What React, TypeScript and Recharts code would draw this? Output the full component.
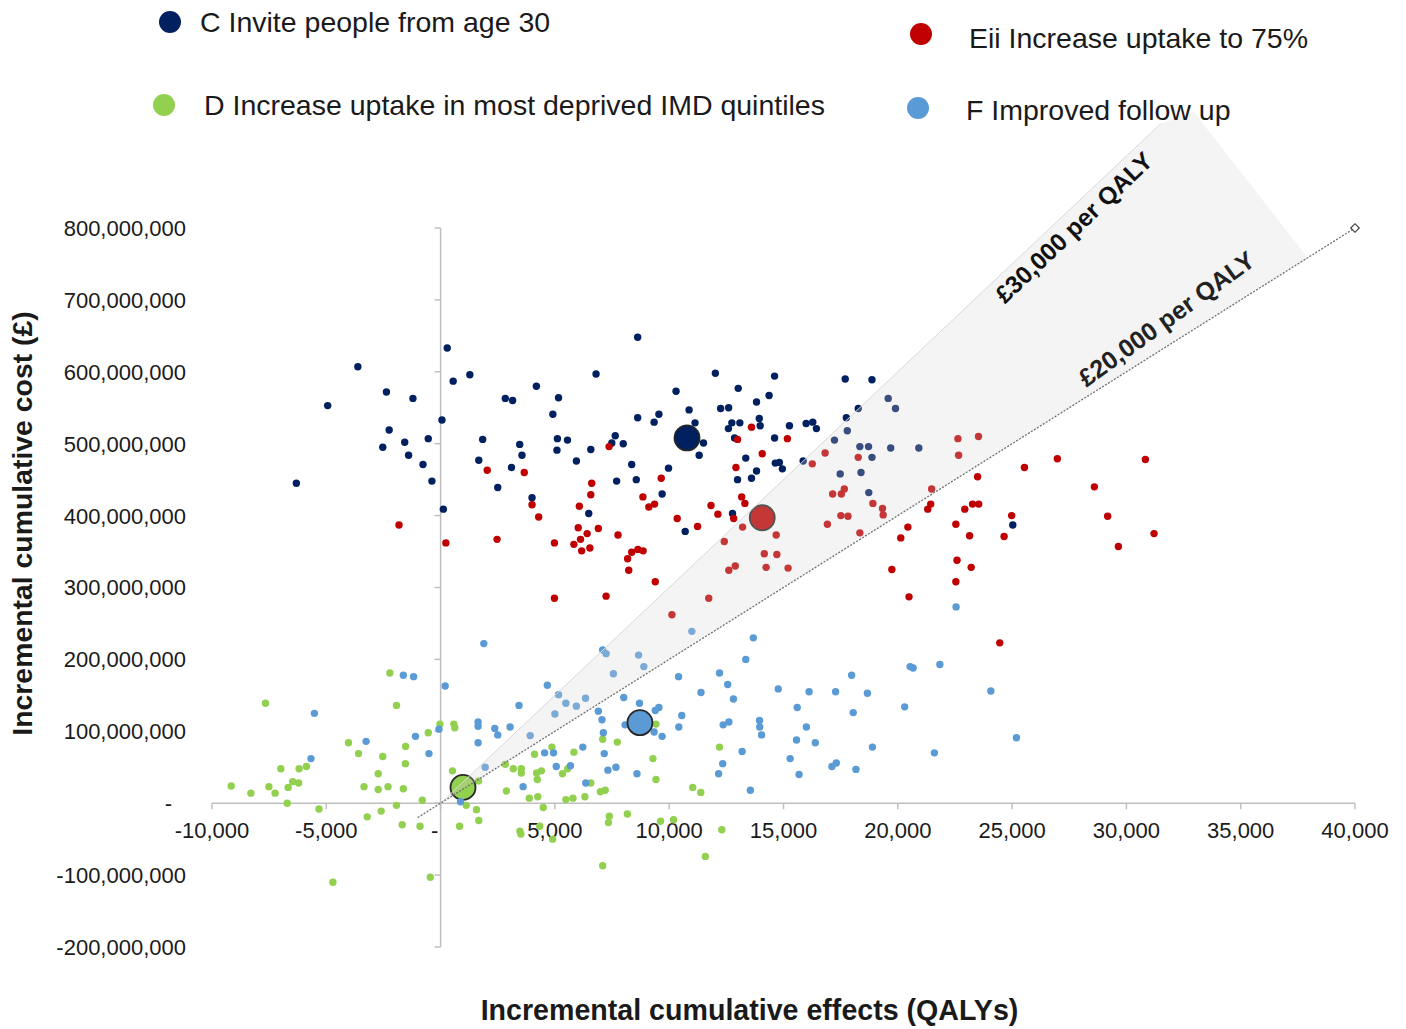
import React from "react";
import {
  ScatterChart,
  Scatter,
  XAxis,
  YAxis,
  ReferenceLine,
  ReferenceDot,
  ReferenceArea,
} from "recharts";

const FONT = "'Liberation Sans', Arial, Helvetica, sans-serif";

const NAVY = "#002060";
const RED = "#c00000";
const GREEN = "#92d050";
const BLUE = "#5b9bd5";

// [incremental QALYs, incremental cost in £ millions]
const inviteFrom30: [number, number][] = [
  [290, 633], [-3620, 607], [1280, 596], [550, 587], [4190, 580], [-2370, 572], [-1210, 563], [2830, 563], [3150, 560], [5160, 564],
  [-4940, 553], [4910, 541], [60, 533], [-2250, 519], [-540, 507], [1840, 506], [5110, 507], [-1570, 502], [3460, 499], [-2530, 495],
  [5090, 491], [-1400, 484], [3560, 484], [1670, 477], [-770, 471], [3100, 467], [-380, 448], [2500, 439], [4000, 425], [-6310, 445],
  [120, 409], [8620, 648], [6800, 597], [12020, 598], [14610, 594], [17700, 590], [18870, 589], [10300, 573], [13020, 577], [14370, 567],
  [13820, 558], [10870, 547], [12250, 549], [12600, 550], [18270, 549], [8620, 536], [9550, 541], [9340, 530], [11130, 529], [12740, 529],
  [13090, 529], [13940, 535], [13980, 525], [12590, 521], [15260, 525], [15990, 528], [16280, 530], [16440, 521], [17750, 536], [17790, 518],
  [5550, 505], [7640, 511], [7490, 501], [7990, 500], [11500, 501], [12860, 508], [14610, 508], [17230, 505], [6570, 492], [11310, 484],
  [18340, 496], [18720, 496], [18870, 481], [5940, 476], [8360, 471], [9970, 466], [13350, 480], [14640, 473], [14820, 474], [14950, 465],
  [13820, 462], [15860, 476], [17480, 458], [18390, 460], [7700, 448], [8560, 450], [12990, 450], [13600, 452], [9690, 430], [18730, 432],
  [6480, 403], [12770, 403], [19580, 563], [19900, 549], [19690, 494], [20920, 494], [25030, 387], [10700, 378],
];

const deprivedUptake: [number, number][] = [
  [-2220, 181], [-7660, 139], [-1930, 136], [-4030, 84], [-3590, 69], [-2530, 65], [-1530, 79], [-540, 98], [-30, 110], [580, 110],
  [620, 105], [-6990, 48], [-6190, 48], [-5870, 51], [-1540, 55], [-2730, 41], [-6470, 30], [-6210, 28], [-6670, 22], [-7510, 23],
  [-7240, 14], [-8300, 14], [-6710, 0], [-3350, 23], [-2730, 19], [-2300, 23], [-1630, 20], [-800, 4], [-1930, -3], [-5320, -8],
  [-3210, -19], [-2600, -11], [-1680, -30], [-900, -32], [830, -32], [520, 45], [2830, 54], [3180, 48], [3530, 48], [3530, 42],
  [4110, 68], [4870, 78], [4200, 42], [4230, 33], [4410, 45], [2880, 17], [3880, 7], [4250, 9], [4490, -6], [1570, -9],
  [1670, -24], [1120, -3], [3470, -39], [3510, -43], [4340, -32], [4900, -50], [-4710, -110], [-450, -103], [1660, 31], [-9160, 24],
  [9420, 110], [7090, 89], [7730, 85], [5830, 71], [9290, 62], [9420, 33], [12200, 78], [5330, 41], [5560, 48], [6570, 28],
  [5790, 7], [5480, 5], [6310, 9], [6990, 16], [7200, 18], [11030, 22], [11380, 15], [7380, -18], [7340, -27], [8170, -15],
  [9620, -25], [10190, -23], [12300, -37], [11580, -74], [7090, -87],
];

const uptake75: [number, number][] = [
  [2040, 463], [3660, 460], [4000, 415], [4290, 398], [7370, 496], [13600, 523], [12990, 506], [15170, 507], [14070, 486], [16820, 487],
  [16260, 472], [18270, 481], [12920, 467], [6610, 445], [6570, 429], [9650, 452], [6070, 413], [8850, 426], [9110, 412], [9360, 416],
  [13170, 426], [13310, 417], [11830, 414], [12130, 402], [17150, 430], [17530, 430], [17660, 437], [18910, 417], [17510, 400], [17820, 399],
  [10350, 396], [12820, 396], [22630, 507], [23530, 510], [22660, 484], [21480, 437], [23490, 454], [25540, 467], [26980, 479], [30830, 478],
  [28600, 440], [21440, 416], [21310, 409], [22930, 409], [23270, 416], [23540, 416], [24980, 400], [29180, 399], [19330, 410], [19360, 401],
  [20440, 384], [22540, 388], [20130, 369], [23140, 372], [24650, 371], [29650, 357], [31210, 375], [22590, 338], [23210, 328], [19740, 325],
  [22540, 308], [20490, 287], [24460, 223], [-1820, 387], [230, 362], [2470, 367], [4980, 362], [4980, 285], [6020, 383], [6410, 375],
  [6900, 382], [6120, 367], [5830, 360], [6170, 351], [6530, 355], [7760, 373], [11240, 385], [13210, 384], [12410, 364], [14680, 373],
  [14160, 347], [14710, 346], [14240, 328], [15200, 327], [12610, 324], [12890, 330], [16920, 388], [18340, 376], [8180, 340], [8360, 349],
  [8630, 353], [8860, 351], [8230, 324], [9390, 308], [7240, 288], [11730, 285], [10120, 262],
];

const improvedFollowUp: [number, number][] = [
  [1890, 222], [-1630, 178], [-1180, 176], [200, 163], [4670, 164], [5160, 151], [22550, 273], [20540, 190], [20670, 188], [21840, 193],
  [24070, 156], [10990, 239], [13680, 230], [7090, 213], [7240, 208], [8660, 206], [8890, 190], [7560, 180], [13350, 200], [10410, 176],
  [12200, 181], [12560, 165], [11390, 154], [14770, 159], [16120, 155], [17280, 155], [17980, 178], [18670, 153], [6340, 146], [8010, 147],
  [12810, 145], [-5520, 125], [-3260, 86], [-5670, 62], [-1100, 93], [-510, 69], [-70, 103], [1640, 113], [1640, 107], [1640, 84],
  [2370, 104], [2500, 95], [3040, 106], [3430, 136], [3920, 94], [1950, 50], [4550, 70], [4940, 70], [5060, 51], [3610, 23],
  [870, 2], [5000, 124], [5480, 139], [5940, 135], [6900, 128], [7060, 116], [7120, 98], [8070, 109], [9390, 129], [9550, 133],
  [10550, 122], [10420, 106], [9690, 93], [9340, 99], [6220, 78], [7160, 69], [5680, 52], [7320, 46], [7670, 50], [8590, 41],
  [6350, 28], [8700, 139], [15600, 133], [18050, 126], [12360, 109], [12610, 113], [13950, 115], [13960, 106], [14040, 95], [16000, 106],
  [15570, 88], [16390, 84], [13190, 72], [15290, 62], [12340, 55], [12160, 41], [13550, 18], [15680, 40], [17120, 51], [17310, 56],
  [18170, 47], [18890, 78], [20300, 134], [21600, 70], [25190, 91],
];

// scenario means
const meanC: [number, number][] = [[10780, 508]];
const meanEii: [number, number][] = [[14070, 397]];
const meanD: [number, number][] = [[980, 22]];
const meanF: [number, number][] = [[8720, 112]];

const xTicks = [-10000, -5000, 0, 5000, 10000, 15000, 20000, 25000, 30000, 35000, 40000];
const yTicks = [-200, -100, 0, 100, 200, 300, 400, 500, 600, 700, 800];

// willingness-to-pay threshold, £ per QALY
const WTP_LOW = 20000;
const lowLineX = [-1000, 40000];

// shaded band between the two thresholds (QALYs, £m)
const BAND: [number, number][] = [
  [0, 0],
  [31500, 945],
  [32960, 961],
  [37930, 758.6],
];

const legendItems = [
  { label: "C Invite people from age 30", color: NAVY, dot: [170, 22], text: [200, 22] },
  { label: "D Increase uptake in most deprived IMD quintiles", color: GREEN, dot: [164, 105], text: [204, 105] },
  { label: "Eii Increase uptake to 75%", color: RED, dot: [921, 34], text: [969, 38] },
  { label: "F Improved follow up", color: BLUE, dot: [918, 108], text: [966, 110] },
];

const toPoints = (rows: [number, number][]) => rows.map(([x, y]) => ({ x, y }));

const fmtMoney = (v: number) => (v * 1000000).toLocaleString("en-US");

const smallDot = (color: string) => (p: any) => (
  <circle cx={p.cx} cy={p.cy} r={3.7} fill={color} />
);

const meanDot = (color: string) => (p: any) => (
  <circle cx={p.cx} cy={p.cy} r={12.5} fill={color} stroke="#262626" strokeWidth={1.8} />
);

function YTick(props: any) {
  const { x, y, payload } = props;
  const zero = payload.value === 0;
  return (
    <text
      x={zero ? x - 14 : x}
      y={y}
      dy="0.36em"
      textAnchor="end"
      fontSize={22}
      fontFamily={FONT}
      fill="#1a1a1a"
    >
      {zero ? "-" : fmtMoney(payload.value)}
    </text>
  );
}

function BandShape(props: any) {
  const { x, y, width, height } = props;
  const xMax = Math.max(...BAND.map((p) => p[0]));
  const yMax = Math.max(...BAND.map((p) => p[1]));
  const pts = BAND.map(([dx, dy]) => [x + (dx / xMax) * width, y + height - (dy / yMax) * height]);
  return (
    <g>
      <polygon points={pts.map((p) => p.join(",")).join(" ")} fill="#d6d6d6" fillOpacity={0.26} />
      <line x1={pts[0][0]} y1={pts[0][1]} x2={pts[1][0]} y2={pts[1][1]} stroke="#d9d9d9" strokeWidth={1} />
    </g>
  );
}

export default function App() {
  return (
    <div style={{ position: "absolute", left: 0, top: 0, width: 1406, height: 1029, background: "#fff" }}>
      <ScatterChart width={1406} height={1029} margin={{ top: 228, right: 51, bottom: 32, left: 62 }}>
        <XAxis
          type="number"
          dataKey="x"
          domain={[-10000, 40000]}
          ticks={xTicks}
          height={50}
          axisLine={false}
          tickLine={false}
          tick={false}
          label={{
            content: (p: any) => {
              const vb = p.viewBox;
              return (
                <text
                  x={vb.x + vb.width / 2 - 34}
                  y={vb.y + 63}
                  dy="0.36em"
                  textAnchor="middle"
                  fontSize={28.6}
                  fontWeight="bold"
                  fontFamily={FONT}
                  fill="#1a1a1a"
                >
                  Incremental cumulative effects (QALYs)
                </text>
              );
            },
          }}
        />
        <YAxis
          type="number"
          dataKey="y"
          domain={[-200, 800]}
          ticks={yTicks}
          width={150}
          axisLine={false}
          tickLine={false}
          tickSize={0}
          tickMargin={26}
          tick={<YTick />}
          label={{
            content: (p: any) => {
              const vb = p.viewBox;
              const cx = vb.x - 40;
              const cy = vb.y + vb.height / 2 - 64;
              return (
                <text
                  x={cx}
                  y={cy}
                  dy="0.36em"
                  textAnchor="middle"
                  transform={`rotate(-90, ${cx}, ${cy})`}
                  fontSize={28.4}
                  fontWeight="bold"
                  fontFamily={FONT}
                  fill="#1a1a1a"
                >
                  Incremental cumulative cost (£)
                </text>
              );
            },
          }}
        />

        <ReferenceLine x={0} stroke="#bfbfbf" strokeWidth={1.5} />
        <ReferenceLine y={0} stroke="#bfbfbf" strokeWidth={1.5} />
        {yTicks.map((v) => (
          <ReferenceDot
            key={`yt${v}`}
            x={0}
            y={v}
            r={0}
            shape={(p: any) => (
              <line x1={p.cx - 6} x2={p.cx} y1={p.cy} y2={p.cy} stroke="#bfbfbf" strokeWidth={1.5} />
            )}
          />
        ))}
        {xTicks.map((v) => (
          <ReferenceDot
            key={`xt${v}`}
            x={v}
            y={0}
            r={0}
            shape={(p: any) => (
              <g>
                <line x1={p.cx} x2={p.cx} y1={p.cy} y2={p.cy + 6} stroke="#bfbfbf" strokeWidth={1.5} />
                <text
                  x={v === 0 ? p.cx - 6 : p.cx}
                  y={p.cy + 27}
                  dy="0.36em"
                  textAnchor="middle"
                  fontSize={22}
                  fontFamily={FONT}
                  fill="#1a1a1a"
                >
                  {v === 0 ? "-" : v.toLocaleString("en-US")}
                </text>
              </g>
            )}
          />
        ))}

        <Scatter data={toPoints(inviteFrom30)} shape={smallDot(NAVY)} isAnimationActive={false} />
        <Scatter data={toPoints(uptake75)} shape={smallDot(RED)} isAnimationActive={false} />
        <Scatter data={toPoints(deprivedUptake)} shape={smallDot(GREEN)} isAnimationActive={false} />
        <Scatter data={toPoints(meanC)} shape={meanDot(NAVY)} isAnimationActive={false} />
        <Scatter data={toPoints(meanEii)} shape={meanDot(RED)} isAnimationActive={false} />
        <Scatter data={toPoints(meanD)} shape={meanDot(GREEN)} isAnimationActive={false} />
        <Scatter data={toPoints(improvedFollowUp)} shape={smallDot(BLUE)} isAnimationActive={false} />
        <Scatter data={toPoints(meanF)} shape={meanDot(BLUE)} isAnimationActive={false} />

        {/* translucent band sits above the points so the dots inside it look washed out */}
        <ReferenceArea
          x1={0}
          x2={Math.max(...BAND.map((p) => p[0]))}
          y1={0}
          y2={Math.max(...BAND.map((p) => p[1]))}
          ifOverflow="visible"
          shape={<BandShape />}
          zIndex={700}
        />
        <ReferenceLine
          segment={lowLineX.map((x) => ({ x, y: (x * WTP_LOW) / 1000000 }))}
          stroke="#707070"
          strokeWidth={1.3}
          strokeDasharray="2 1.5"
          ifOverflow="visible"
          zIndex={710}
        />
        <ReferenceDot
          x={lowLineX[1]}
          y={(lowLineX[1] * WTP_LOW) / 1000000}
          ifOverflow="visible"
          zIndex={720}
          shape={(p: any) => (
            <rect
              x={p.cx - 3}
              y={p.cy - 3}
              width={6}
              height={6}
              fill="#fff"
              stroke="#404040"
              strokeWidth={1.2}
              transform={`rotate(45, ${p.cx}, ${p.cy})`}
            />
          )}
        />
        <ReferenceDot
          x={27690}
          y={801}
          ifOverflow="visible"
          zIndex={720}
          shape={(p: any) => (
            <text
              x={p.cx}
              y={p.cy}
              dy="0.36em"
              textAnchor="middle"
              transform={`rotate(-43.5, ${p.cx}, ${p.cy})`}
              fontSize={24.5}
              fontWeight="bold"
              fontFamily={FONT}
              fill="#111"
            >
              £30,000 per QALY
            </text>
          )}
        />
        <ReferenceDot
          x={31750}
          y={674}
          ifOverflow="visible"
          zIndex={720}
          shape={(p: any) => (
            <text
              x={p.cx}
              y={p.cy}
              dy="0.36em"
              textAnchor="middle"
              transform={`rotate(-36, ${p.cx}, ${p.cy})`}
              fontSize={25}
              fontWeight="bold"
              fontFamily={FONT}
              fill="#222"
            >
              £20,000 per QALY
            </text>
          )}
        />
      </ScatterChart>

      <svg width={1406} height={140} style={{ position: "absolute", left: 0, top: 0, pointerEvents: "none" }}>
        {legendItems.map((item) => (
          <g key={item.label}>
            <circle cx={item.dot[0]} cy={item.dot[1]} r={11} fill={item.color} />
            <text
              x={item.text[0]}
              y={item.text[1]}
              dy="0.36em"
              fontSize={28.5}
              fontFamily={FONT}
              fill="#1a1a1a"
            >
              {item.label}
            </text>
          </g>
        ))}
      </svg>
    </div>
  );
}
